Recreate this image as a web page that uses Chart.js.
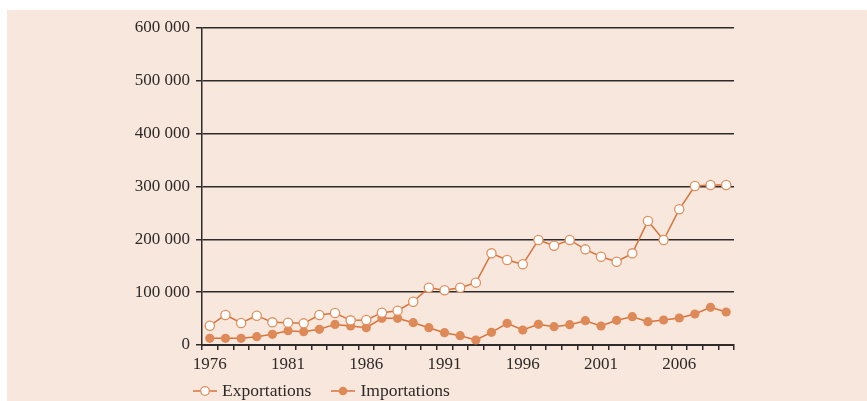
<!DOCTYPE html>
<html lang="fr">
<head>
<meta charset="UTF-8">
<title>Exportations et importations</title>
<script src="https://cdn.jsdelivr.net/npm/chart.js"></script>
<style>
    body { margin: 0; background: #fff; }
    #panel { position: absolute; left: 7px; top: 10px; width: 860px; height: 391px; background: #f8e7dc; }
    #wrap { position: absolute; left: 0; top: 0; width: 867px; height: 401px; }
    #legend { position: absolute; left: 193px; top: 380px; font: 17.5px "Liberation Serif", serif; color: #2e2a29; display: flex; }
    #legend span.item { display: inline-flex; align-items: center; margin-right: 20px; }
    #legend canvas { margin-right: 5px; }
</style>
</head>
<body>
<div id="panel"></div>
<div id="wrap"><canvas id="chart" width="867" height="401"></canvas></div>
<div id="legend"></div>
<script>
    const years = [];
    for (let y = 1976; y <= 2009; y++) years.push(String(y));

    const exportations = [36500, 56800, 41600, 55500, 42900, 42300, 41000, 56800, 60600, 46700,
        47300, 61200, 65000, 82000, 108500, 103500, 108500, 118000, 173500, 160900,
        152700, 198800, 188000, 198800, 181000, 167000, 157700, 173500, 234700, 198800,
        256800, 301000, 302900, 302900];
    const importations = [12600, 12600, 12600, 15800, 20200, 27000, 25200, 29700, 39000, 36000,
        32800, 50500, 50500, 42200, 32800, 23300, 17600, 9500, 24000, 41000,
        28400, 39100, 34700, 38500, 46000, 36000, 46700, 53600, 44100, 47300,
        51100, 58700, 71400, 62500];
    const yTicks = [0, 100000, 200000, 300000, 400000, 500000, 600000];

    const lineColor = '#d8733c';
    const dotColor = '#dd8a58';
    const axisColor = '#2f2b2a';
    const font = { family: '"Liberation Serif", serif', size: 17 };

    function fmt(v) {
        return String(v).replace(/\B(?=(\d{3})+(?!\d))/g, ' ');
    }

    new Chart(document.getElementById('chart'), {
        type: 'line',
        data: {
            labels: years,
            datasets: [
                {
                    label: 'Exportations',
                    data: exportations,
                    borderColor: lineColor,
                    borderWidth: 1.5,
                    pointRadius: 4.6,
                    pointBorderWidth: 1.3,
                    pointBorderColor: '#e08f5e',
                    pointBackgroundColor: '#ffffff',
                    tension: 0
                },
                {
                    label: 'Importations',
                    data: importations,
                    borderColor: lineColor,
                    borderWidth: 1.5,
                    pointRadius: 4.6,
                    pointBorderWidth: 0,
                    pointBackgroundColor: dotColor,
                    tension: 0
                }
            ]
        },
        options: {
            responsive: false,
            animation: false,
            layout: { padding: { top: 28, right: 133, bottom: 24, left: 0 } },
            plugins: { legend: { display: false }, tooltip: { enabled: false } },
            scales: {
                x: {
                    offset: true,
                    grid: { offset: true, drawOnChartArea: false, drawTicks: true, tickLength: 5, color: axisColor, lineWidth: 1.5 },
                    border: { color: axisColor, width: 2 },
                    ticks: {
                        autoSkip: false, maxRotation: 0, padding: 4, color: '#2e2a29', font: font,
                        callback: function (v, i) { return i % 5 === 0 ? years[i] : ''; }
                    },
                    afterFit: function (s) { s.height = 32; }
                },
                y: {
                    min: 0, max: 600000,
                    afterBuildTicks: function (s) { s.ticks = yTicks.map(v => ({ value: v })); },
                    grid: { color: axisColor, lineWidth: 1.5, tickLength: 6 },
                    border: { color: axisColor, width: 1.5 },
                    ticks: { padding: 6, color: '#2e2a29', font: font, callback: v => fmt(v) },
                    afterFit: function (s) { s.width = 202; }
                }
            }
        }
    });

    // legend: line with circle marker + text
    function marker(filled) {
        const c = document.createElement('canvas');
        c.width = 24; c.height = 12;
        const g = c.getContext('2d');
        g.strokeStyle = lineColor; g.lineWidth = 1.5;
        g.beginPath(); g.moveTo(0, 6); g.lineTo(24, 6); g.stroke();
        g.beginPath(); g.arc(12, 6, 4.3, 0, Math.PI * 2);
        if (filled) { g.fillStyle = dotColor; g.fill(); }
        else { g.fillStyle = '#fff'; g.fill(); g.strokeStyle = '#e08f5e'; g.lineWidth = 1.3; g.stroke(); }
        return c;
    }
    const legend = document.getElementById('legend');
    [['Exportations', false], ['Importations', true]].forEach(([name, filled]) => {
        const item = document.createElement('span');
        item.className = 'item';
        item.appendChild(marker(filled));
        item.appendChild(document.createTextNode(name));
        legend.appendChild(item);
    });
</script>
</body>
</html>
